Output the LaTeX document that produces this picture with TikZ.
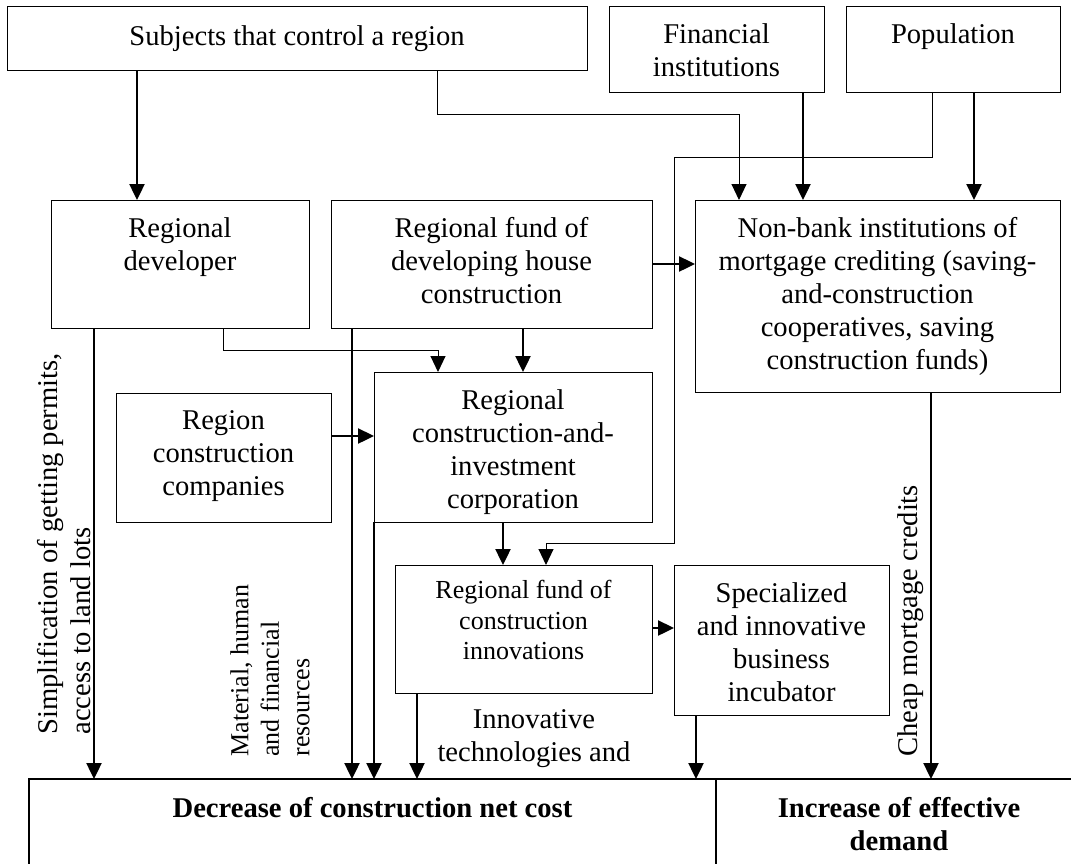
\documentclass[tikz,border=0pt]{standalone}
\usepackage{fontspec}
\setmainfont{Liberation Serif}
\usetikzlibrary{arrows.meta}
\newcommand\fmain{\fontsize{14.3}{16.5}\selectfont}
\newcommand\fsmall{\fontsize{13}{15.3}\selectfont}
\tikzset{
  box/.style={draw, line width=0.5pt, inner sep=0pt, outer sep=0pt},
  bigbox/.style={draw, line width=1.3pt, inner sep=0pt, outer sep=0pt},
  lbl/.style={anchor=north, inner sep=0pt, yshift=-8.5pt, align=center, font=\fmain},
  slbl/.style={anchor=north, inner sep=0pt, yshift=-7.5pt, align=center, font=\fsmall},
  blbl/.style={anchor=north, inner sep=0pt, yshift=-9pt, align=center, font=\fmain\bfseries},
  tip/.style={-{Triangle[length=8pt,width=7.5pt]}},
  thk/.style={line width=1.2pt, tip},
  thn/.style={line width=0.5pt, tip},
  rot/.style={rotate=90, anchor=west, inner sep=0pt, align=left},
}
\begin{document}
\begin{tikzpicture}[x=0.5pt,y=-0.5pt]
\useasboundingbox (0,0) rectangle (1071,863);
\clip (0,0) rectangle (1071,863);
% boxes
\node[box, minimum width=290pt, minimum height=32pt, label={[lbl, yshift=-1pt]north:{Subjects that control a region}}] (subj) at (297,38) {};
\node[box, minimum width=107.5pt, minimum height=43pt, label={[lbl]north:{Financial\\institutions}}] (fin) at (716.5,49) {};
\node[box, minimum width=107pt, minimum height=43pt, label={[lbl]north:{Population}}] (pop) at (953,49) {};
\node[box, minimum width=129pt, minimum height=64pt, label={[lbl]north:{Regional\\developer}}] (dev) at (180,264) {};
\node[box, minimum width=160.5pt, minimum height=64pt, label={[lbl]north:{Regional fund of\\developing house\\construction}}] (fund) at (491.5,264) {};
\node[box, minimum width=182.5pt, minimum height=96pt, label={[lbl]north:{Non-bank institutions of\\mortgage crediting (saving-\\and-construction\\cooperatives, saving\\construction funds)}}] (nb) at (877.5,296) {};
\node[box, minimum width=107.5pt, minimum height=64.5pt, label={[lbl]north:{Region\\construction\\companies}}] (comp) at (223.5,457.5) {};
\node[box, minimum width=139pt, minimum height=75pt, label={[lbl]north:{Regional\\construction-and-\\investment\\corporation}}] (corp) at (513,447) {};
\node[box, minimum width=128.5pt, minimum height=64pt, label={[slbl]north:{Regional fund of\\construction\\innovations}}] (fi) at (523.5,629) {};
\node[box, minimum width=107.5pt, minimum height=75pt, label={[lbl]north:{Specialized\\and innovative\\business\\incubator}}] (inc) at (781.5,640) {};
\node[bigbox, minimum width=343.5pt, minimum height=60.5pt, label={[blbl]north:{Decrease of construction net cost}}] (dec) at (372.5,839.5) {};
\node[bigbox, minimum width=183pt, minimum height=60.5pt, label={[blbl]north:{Increase of effective\\demand}}] (dem) at (899,839.5) {};
% free texts
\node[rot, font=\fmain] (simp) at (64,735) {Simplification of getting permits,\\access to land lots};
\node[rot, font=\fsmall] (mat) at (270,757) {Material, human\\and financial\\resources};
\node[rot, font=\fmain] (cheap) at (911,757) {Cheap mortgage credits};
\node[anchor=north, inner sep=0pt, align=center, font=\fmain] (innov) at (534,709) {Innovative\\technologies and};
% connectors
\draw[thk] (137,0 |- subj.south) -- (137,0 |- dev.north);
\draw[thn] (437,0 |- subj.south) -- (437,114) -| (739,0 |- nb.north);
\draw[thk] (803,0 |- fin.south) -- (803,0 |- nb.north);
\draw[thk] (974,0 |- pop.south) -- (974,0 |- nb.north);
\draw[thn] (932,0 |- pop.south) -- (932,157) -| (674,543) -| (546,0 |- fi.north);
\draw[thk] (fund.east |- 0,264) -- (nb.west |- 0,264);
\draw[thn] (223,0 |- dev.south) -- (223,350) -| (438,0 |- corp.north);
\draw[thk] (523,0 |- fund.south) -- (523,0 |- corp.north);
\draw[thk] (comp.east |- 0,436) -- (corp.west |- 0,436);
\draw[thk] (503,0 |- corp.south) -- (503,0 |- fi.north);
\draw[thk] (fi.east |- 0,628) -- (inc.west |- 0,628);
\draw[thk] (94,0 |- dev.south) -- (94,0 |- dec.north);
\draw[thk] (352,0 |- fund.south) -- (352,0 |- dec.north);
\draw[thk] (corp.south west) -- (corp.south west |- dec.north);
\draw[thk] (417,0 |- fi.south) -- (417,0 |- dec.north);
\draw[thk] (696,0 |- inc.south) -- (696,0 |- dec.north);
\draw[thk] (931,0 |- nb.south) -- (931,0 |- dem.north);
\end{tikzpicture}
\end{document}
